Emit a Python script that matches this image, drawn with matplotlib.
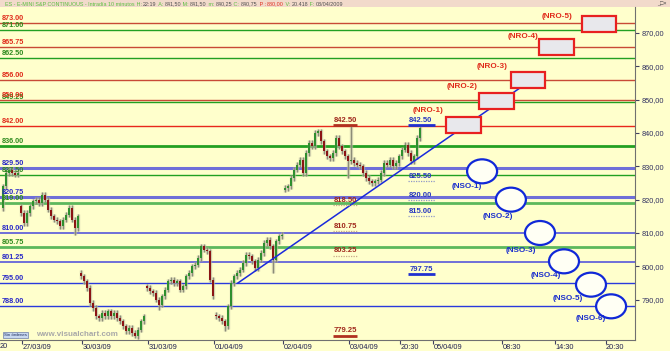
import numpy as np
import matplotlib.pyplot as plt
from matplotlib.patches import Rectangle, Ellipse

plt.rcParams['font.family'] = ['Liberation Sans', 'DejaVu Sans']

# ---- price bars (one candle ~ 20 min), closes ----
closes_2603 = [824.0, 828.0, 829.0, 828.0, 827.5, 828.0]
closes_2703 = [816.0, 813.0, 816.0, 818.0, 819.5, 820.0, 819.0, 821.5, 820.0, 817.0,
               815.0, 814.0, 813.5, 812.0, 814.0, 815.5, 817.5, 814.0, 811.5, 815.0]
closes_3003 = [797.0, 795.5, 793.5, 789.0, 787.5, 785.0, 784.5, 786.0, 785.0, 786.5, 785.0,
               786.0, 784.5, 783.5, 782.0, 780.5, 781.5, 780.0, 779.0, 781.0, 783.5, 785.0]
closes_3103 = [793.5, 792.5, 792.0, 790.0, 788.5, 791.0, 793.0, 795.5, 796.0, 795.0, 795.5, 793.0,
               794.0, 797.0, 798.0, 800.0, 800.5, 802.5, 806.0, 805.0, 804.5, 796.0, 791.0]
closes_0104 = [785.0, 784.5, 783.5, 782.0, 788.0, 795.0, 797.0, 798.0, 799.0, 801.0, 803.5, 803.0,
               801.5, 799.5, 802.0, 804.0, 807.0, 808.0, 806.0, 802.0, 807.5, 809.0, 809.5]
closes_0204 = [823.5, 824.0, 826.5, 829.0, 830.5, 832.0, 828.0, 834.0, 837.0, 836.0, 840.0, 840.5,
               837.5, 834.5, 833.0, 832.5, 834.0, 838.5, 836.0, 834.5, 833.0, 831.5, 832.0, 831.0,
               830.5, 830.0, 828.0, 826.5, 825.5, 825.0, 825.5, 826.0, 828.0, 831.0, 830.5, 832.0,
               830.0, 831.0, 833.0, 835.0, 836.5, 834.0, 831.5, 833.0, 838.5, 841.5]
session_open = [817.5, 818.0, 798.0, 794.0, 785.5, 823.0]
long_high = {116: 842.5}
long_low = {24: 809.5, 44: 778.5, 52: 787.0, 74: 780.5, 90: 798.0, 115: 826.5}

# ---- horizontal levels ----
red_levels = [873.00, 865.75, 856.00, 850.00, 842.00]
green_levels = [871.00, 862.50, 849.25, 836.00, 827.50, 819.00, 805.75]
blue_levels = [829.50, 820.75, 810.00, 801.25, 795.00, 788.00]

# ---- marked prices ----
red_marks = [842.50, 818.50, 810.75, 803.25, 779.25]
red_solid = [True, False, False, False, True]
blue_marks = [842.50, 825.50, 820.00, 815.00, 797.75]
blue_solid = [True, False, False, False, True]

# ---- trend line ----
trend_x = [78.3, 172.3]
trend_y = [795.0, 853.5]

# ---- projected targets ----
nro_names = ['(NRO-1)', '(NRO-2)', '(NRO-3)', '(NRO-4)', '(NRO-5)']
nro_left = [147.7, 158.7, 169.3, 178.7, 193.0]
nro_low = [840.0, 847.2, 853.5, 863.4, 870.3]
nso_names = ['(NSO-1)', '(NSO-2)', '(NSO-3)', '(NSO-4)', '(NSO-5)', '(NSO-6)']
nso_x = [159.7, 169.3, 179.0, 187.0, 196.0, 202.7]
nso_y = [828.5, 820.0, 810.0, 801.5, 794.5, 788.0]

# ---- axis ticks ----
tick_pos = [6.5, 26.5, 48.5, 70.5, 93.5, 115.5, 132.5, 143.5, 166.5, 184.0, 201.0]
tick_labels = ['27/03/09', '30/03/09', '31/03/09', '01/04/09', '02/04/09', '03/04/09',
               '20:30', '05/04/09', '08:30', '14:30', '20:30']
price_ticks = [790, 800, 810, 820, 830, 840, 850, 860, 870]

title_parts = [('ES - E-MINI S&P CONTINUOUS - Intradía 10 minutos', '#5cc040'),
               (' H: ', '#5cc040'), ('22:19', '#505050'),
               (' A: ', '#5cc040'), ('841,50', '#505050'),
               (' M: ', '#5cc040'), ('841,50', '#505050'),
               (' m: ', '#5cc040'), ('840,25', '#505050'),
               (' C: ', '#5cc040'), ('840,75', '#505050'),
               (' P : ', '#e03020'), ('880,00', '#e03020'),
               (' V: ', '#5cc040'), ('20.418', '#505050'),
               (' F: ', '#5cc040'), ('03/04/2009', '#505050')]

BG = '#FFFFCC'
fig = plt.figure(figsize=(6.7, 3.51), dpi=100, facecolor=BG)
ax = fig.add_axes([0, 11 / 351, 635 / 670, 333 / 351])
ax.set_facecolor(BG)
ax.set_xlim(-1, 210.67)
ax.set_ylim(777.9, 877.8)

# level lines
thick_lines = {836.00: 2.0, 819.00: 2.0, 805.75: 2.0, 829.50: 2.2, 820.75: 2.2,
               810.00: 1.4, 801.25: 1.4}
for v in green_levels:
    c = '#5cb85c' if v in (819.00, 805.75) else '#22a022'
    ax.axhline(v, color=c, lw=thick_lines.get(v, 1.0), zorder=1)
for v in blue_levels:
    c = '#6f6fd8' if v in (829.50, 820.75, 810.00, 801.25) else '#2a3adc'
    ax.axhline(v, color=c, lw=thick_lines.get(v, 1.0), zorder=1)
for v in red_levels:
    c = '#e8281c' if v == 842.00 else '#c84a36'
    ax.axhline(v, color=c, lw=1.0, zorder=1)

# level labels on the left
lab_kw = dict(xycoords=('axes fraction', 'data'), xytext=(2, 1), textcoords='offset pixels',
              ha='left', va='bottom', fontsize=5.2, fontweight='bold', zorder=6)
for v in green_levels:
    ax.annotate(f'{v:.2f}', (0, v), color='#2e8b1e', **lab_kw)
for v in blue_levels:
    ax.annotate(f'{v:.2f}', (0, v), color='#2828c8', **lab_kw)
for v in red_levels:
    ax.annotate(f'{v:.2f}', (0, v), color='#e02a1a', **lab_kw)

# candles
sessions = [closes_2603, closes_2703, closes_3003, closes_3103, closes_0104, closes_0204]
closes = sum(sessions, [])
opens = []
for op, sess in zip(session_open, sessions):
    opens += [op] + sess[:-1]
xs = np.arange(len(closes))
opens = np.array(opens)
closes = np.array(closes)
tops = np.maximum(opens, closes)
bots = np.minimum(opens, closes)
highs = np.array([long_high.get(i, t + 0.8) for i, t in enumerate(tops)])
lows = np.array([long_low.get(i, b - 0.8) for i, b in enumerate(bots)])
ax.vlines(xs, lows, highs, color='#b8b8a0', lw=2.4, alpha=0.6, zorder=3)
ax.vlines(xs, lows, highs, color='#8c8c78', lw=0.8, zorder=3)
up = closes >= opens
hgt = np.maximum(tops - bots, 0.3)
ax.bar(xs[up], hgt[up], bottom=bots[up], width=0.65, color='#2f8f2f', zorder=4)
ax.bar(xs[~up], hgt[~up], bottom=bots[~up], width=0.65, color='#8b1414', zorder=4)

# trend line
ax.plot(trend_x, trend_y, color='#1a2adc', lw=1.1, zorder=5)

# marked prices
for v, solid in zip(red_marks, red_solid):
    if solid:
        ax.hlines(v, 110, 118, color='#b03020', lw=2.0, zorder=5)
    else:
        ax.hlines(v, 110, 118, color='#c8a888', lw=0.9, ls=(0, (1, 1)), zorder=5)
    ax.annotate(f'{v:.2f}', (114, v), xytext=(0, 1), textcoords='offset pixels',
                ha='center', va='bottom', fontsize=5.5, fontweight='bold', color='#a0281c', zorder=6)
for v, solid in zip(blue_marks, blue_solid):
    if solid:
        ax.hlines(v, 135, 144, color='#2030d0', lw=2.0, zorder=5)
    else:
        ax.hlines(v, 135, 144, color='#9098c8', lw=0.9, ls=(0, (1, 1)), zorder=5)
    ax.annotate(f'{v:.2f}', (139.3, v), xytext=(0, 1), textcoords='offset pixels',
                ha='center', va='bottom', fontsize=5.5, fontweight='bold', color='#2838c0', zorder=6)

# NRO boxes
nro_off = [(-18, 6), (-17, 6), (-19, 6), (-16, 2), (-25, 0)]
for name, x0, y0, off in zip(nro_names, nro_left, nro_low, nro_off):
    ax.add_patch(Rectangle((x0, y0), 11.5, 4.8, facecolor='#e8e8ec', edgecolor='#e82020',
                           lw=1.6, zorder=6))
    ax.annotate(name, (x0, y0 + 4.8), xytext=off, textcoords='offset pixels',
                ha='center', va='center', fontsize=5.9, fontweight='bold', color='#e02a1a', zorder=7)

# NSO ellipses
nso_off = [(-15, -15.5), (-13, -16.5), (-19, -17.5), (-18, -14.5), (-23, -13.5), (-20, -12.5)]
for name, cx, cy, off in zip(nso_names, nso_x, nso_y, nso_off):
    ax.add_patch(Ellipse((cx, cy), 10, 7.2, facecolor='#fffff4', edgecolor='#1028d8',
                         lw=1.6, zorder=6))
    ax.annotate(name, (cx, cy), xytext=off, textcoords='offset pixels',
                ha='center', va='center', fontsize=5.9, fontweight='bold', color='#1a2ecc', zorder=7)

# axes
for s in ['left', 'top']:
    ax.spines[s].set_visible(False)
for s in ['right', 'bottom']:
    ax.spines[s].set_color('#707070')
    ax.spines[s].set_linewidth(0.8)
ax.yaxis.tick_right()
ax.set_yticks(price_ticks, [f'{v:.2f}'.replace('.', ',') for v in price_ticks])
ax.set_xticks(tick_pos, tick_labels)
for lab in ax.get_xticklabels():
    lab.set_ha('left')
ax.tick_params(axis='y', length=3, pad=1.5, labelsize=5.3, colors='#404060', labelcolor='#303060')
ax.tick_params(axis='x', length=3, pad=0, labelsize=5.3, colors='#404060', labelcolor='#202050')
ax.annotate('20', (0, 0), xycoords='axes fraction', xytext=(0, -3), textcoords='offset pixels',
            ha='left', va='top', fontsize=5.3, color='#202050', annotation_clip=False)

# watermark and order box
ax.annotate('Sin órdenes', (4, 5), xycoords='axes pixels', ha='left', va='center', fontsize=3.2,
            color='#203060', bbox=dict(boxstyle='square,pad=0.25', fc='#c8d8f0', ec='#8090b0', lw=0.6),
            zorder=8)
ax.annotate('www.visualchart.com', (36, 5), xycoords='axes pixels', ha='left', va='center',
            fontsize=5.8, fontweight='bold', color='#a8a8a8', zorder=8)

# title bar
fig.patches.append(Rectangle((0, 1 - 7 / 351), 1, 7 / 351, transform=fig.transFigure,
                             facecolor='#f2dacb', edgecolor='none', zorder=-1))
prev = fig.text(5 / 670, 1 - 6.5 / 351, title_parts[0][0], color=title_parts[0][1],
                fontsize=3.9, ha='left', va='bottom')
for s, c in title_parts[1:]:
    prev = ax.annotate(s, xy=(1, 0), xycoords=prev, ha='left', va='bottom', color=c,
                       fontsize=3.9, annotation_clip=False)
fig.text(1 - 3 / 670, 1 - 3.5 / 351, '_□×', fontsize=4, color='#404040', ha='right', va='center')

fig.savefig('out.png', dpi=100, facecolor=BG)
